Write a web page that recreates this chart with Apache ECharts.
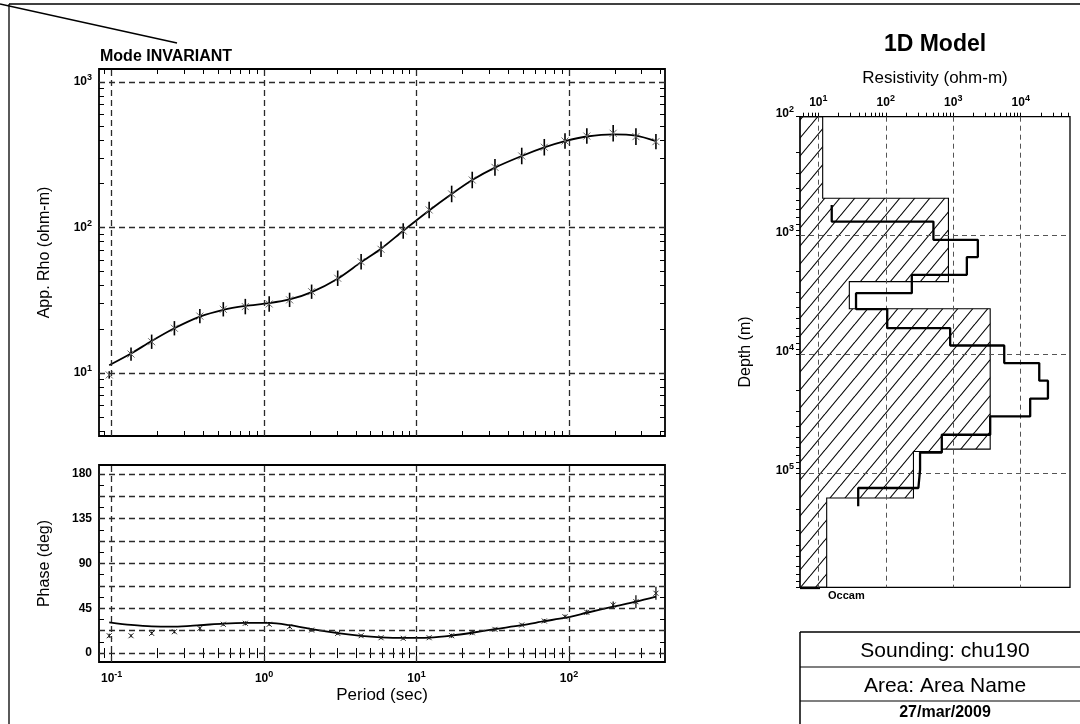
<!DOCTYPE html>
<html><head><meta charset="utf-8">
<script src="https://cdn.jsdelivr.net/npm/echarts@6/dist/echarts.min.js"></script>
<style>html,body{margin:0;padding:0;background:#fff}#c{width:1080px;height:724px}</style>
</head><body><div id="c"></div>
<script>
// ---------- DATA ----------
const periods   = [0.0964, 0.134, 0.183, 0.258, 0.379, 0.540, 0.753, 1.08, 1.47, 2.05, 3.04, 4.33, 5.85, 8.18, 12.1, 17.0, 23.2, 32.7, 49.0, 68.9, 94.2, 131, 195, 275, 372];
const rhoObs    = [9.7, 13.5, 16.4, 20.3, 24.6, 27.4, 28.6, 29.8, 31.8, 36.2, 44.8, 58.2, 70.8, 94.6, 132, 170, 212, 259, 310, 356, 393, 425, 444, 421, 389];
const rhoErr    = [0.06, 0.11, 0.12, 0.12, 0.12, 0.12, 0.13, 0.13, 0.12, 0.12, 0.13, 0.13, 0.13, 0.13, 0.14, 0.14, 0.14, 0.14, 0.14, 0.14, 0.13, 0.13, 0.14, 0.14, 0.13];
const rhoModel  = [11.3, 13.6, 16.6, 20.3, 24.4, 27.2, 28.9, 30.2, 32.0, 36.0, 44.5, 57.8, 71.5, 95, 131, 170, 212, 258, 310, 355, 392, 422, 437, 428, 392];
const phaseObs  = [17.4, 17.4, 19.8, 21.4, 24.8, 28.9, 29.9, 28.9, 26.5, 23.1, 19.8, 17.4, 15.4, 14.8, 15.4, 17.4, 20.4, 23.8, 28.2, 32.2, 36.5, 40.9, 48.3, 51.6, 60.1];
const phaseErr  = [2, 1.5, 1.5, 1.5, 2, 1.5, 2, 1.5, 1.5, 1.5, 1.5, 1.5, 1.5, 1.5, 1.5, 2, 2, 2, 1.5, 2, 2, 2.5, 3.5, 6.5, 6.5];
const phaseModel= [30.9, 28.3, 26.8, 26.6, 28.0, 29.6, 30.3, 30.3, 28.0, 24.0, 20.0, 17.2, 15.8, 15.2, 15.6, 17.6, 20.4, 24.0, 28.0, 32.0, 35.5, 40.5, 46.6, 51.6, 56.7];

// 1D model: Occam layers (depth boundaries in m, resistivity per layer in ohm-m)
const occamDepth = [552, 762, 1086, 1517, 2138, 3048, 4150, 6000, 8400, 11800, 16600, 23500, 33200, 47300, 66700, 93100, 132700, 189000];
const occamRes   = [15.8, 508, 2313, 1589, 243, 36.2, 105, 899, 5690, 18800, 25300, 13800, 3525, 676, 322, 304, 39];
// hatched bound (depth boundaries and max resistivity per layer)
const envDepth = [100, 485, 2440, 4120, 62500, 65500, 161000, 908000];
const envRes   = [11.6, 848, 28.8, 3525, 676, 257, 13.3];

// axes / tick labels
const periodLabels = [0.1, 1, 10, 100];
const rhoLabels    = [10, 100, 1000];
const phaseLabels  = [0, 45, 90, 135, 180];
const phaseGrid    = [0, 22.5, 45, 67.5, 90, 112.5, 135, 157.5, 180];
const phaseTicks   = [0, 11.25, 22.5, 33.75, 45, 56.25, 67.5, 78.75, 90, 101.25, 112.5, 123.75, 135, 146.25, 157.5, 168.75, 180];
const resLabels    = [10, 100, 1000, 10000];
const depthLabels  = [100, 1000, 10000, 100000];

const P_MIN = 0.0826, P_MAX = 426.6;
const RHO_MIN = 3.69, RHO_MAX = 1228;
const PH_MIN = -9, PH_MAX = 189;
const RES_MIN = 5.35, RES_MAX = 53700;
const DEP_MIN = 100, DEP_MAX = 908000;

// ---------- helpers ----------
const FONT = "'Liberation Sans', Arial, Helvetica, sans-serif";
function decadeTicks(lo, hi) {
  const out = [];
  for (let k = Math.floor(Math.log10(lo)); k <= Math.ceil(Math.log10(hi)); k++) {
    for (let m = 1; m <= 9; m++) {
      const v = parseFloat((m * Math.pow(10, k)).toPrecision(6));
      if (v >= lo && v <= hi) out.push(v);
    }
  }
  return out;
}
const pow10 = v => '{b|10}{s|' + Math.round(Math.log10(v)) + '}';
const rich = {
  b: {fontSize: 12, fontWeight: 'bold', fontFamily: FONT, color: '#000'},
  s: {fontSize: 9, fontWeight: 'bold', fontFamily: FONT, color: '#000', padding: [0, 0, 8, 0]}
};
const richUp = {
  b: {fontSize: 12, fontWeight: 'bold', fontFamily: FONT, color: '#000', padding: [0, 0, 6, 0]},
  s: {fontSize: 9, fontWeight: 'bold', fontFamily: FONT, color: '#000', padding: [0, 0, 14, 0]}
};
const nameStyle = {fontSize: 16, fontFamily: FONT, color: '#000'};

function hatchPattern() {
  const w = 15, h = 18;
  const c = document.createElement('canvas');
  c.width = w; c.height = h;
  const g = c.getContext('2d');
  g.strokeStyle = '#000'; g.lineWidth = 1.1;
  for (let k = -1; k <= 1; k++) {
    g.beginPath(); g.moveTo(k * w, h); g.lineTo(k * w + w, 0); g.stroke();
  }
  return c;
}

function gridMark(xs, ys, style) {
  return {
    silent: true, symbol: ['none', 'none'], label: {show: false}, animation: false,
    emphasis: {disabled: true}, lineStyle: style,
    data: xs.map(v => ({xAxis: v})).concat(ys.map(v => ({yAxis: v})))
  };
}
const dashL = {color: '#2a2a2a', width: 1.3, type: [6, 4]};
const dashR = {color: '#555', width: 1, type: [5, 4]};

function tick(vals, inside, len) {
  return {show: true, inside: inside, length: len, customValues: vals, lineStyle: {color: '#000', width: 1}};
}
const noLine = {show: false};
const noSplit = {show: false};

const pTicks = decadeTicks(P_MIN, P_MAX);
const rTicks = decadeTicks(RHO_MIN, RHO_MAX);
const resTicks = decadeTicks(RES_MIN, RES_MAX);
const depTicks = decadeTicks(DEP_MIN, DEP_MAX);

function errRenderer(color, xs, barW, isLog) {
  return function (params, api) {
    const p = api.value(0), v = api.value(1), e = api.value(2);
    const c = api.coord([p, v]);
    const hi = api.coord([p, isLog ? v * (1 + e) : v + e]);
    const lo = api.coord([p, isLog ? v / (1 + e) : v - e]);
    return {type: 'group', children: [
      {type: 'line', shape: {x1: c[0], y1: hi[1], x2: c[0], y2: lo[1]}, style: {stroke: '#000', lineWidth: barW}},
      {type: 'line', shape: {x1: c[0] - xs, y1: c[1] - xs, x2: c[0] + xs, y2: c[1] + xs}, style: {stroke: color, lineWidth: 1}},
      {type: 'line', shape: {x1: c[0] - xs, y1: c[1] + xs, x2: c[0] + xs, y2: c[1] - xs}, style: {stroke: color, lineWidth: 1}}
    ]};
  };
}

const hatch = hatchPattern();
const occamPts = [];
occamRes.forEach((r, i) => { occamPts.push([r, occamDepth[i]], [r, occamDepth[i + 1]]); });

const chart = echarts.init(document.getElementById('c'), null, {renderer: 'canvas'});
const gridBox = {show: true, borderColor: '#000', borderWidth: 1.8, backgroundColor: 'transparent'};

chart.setOption({
  animation: false,
  backgroundColor: '#fff',
  grid: [
    Object.assign({left: 99, top: 69, width: 566, height: 367}, gridBox),
    Object.assign({left: 99, top: 465, width: 566, height: 197}, gridBox),
    Object.assign({left: 800, top: 116.7, width: 270, height: 470.6}, gridBox, {borderWidth: 1.3})
  ],
  xAxis: [
    {gridIndex: 0, type: 'log', position: 'bottom', min: P_MIN, max: P_MAX, axisLine: noLine, splitLine: noSplit,
     axisLabel: {show: false}, axisTick: tick(pTicks, true, 5)},
    {gridIndex: 0, type: 'log', position: 'top', min: P_MIN, max: P_MAX, axisLine: noLine, splitLine: noSplit,
     axisLabel: {show: false}, axisTick: tick(pTicks, true, 5)},
    {gridIndex: 1, type: 'log', position: 'bottom', min: P_MIN, max: P_MAX, axisLine: noLine, splitLine: noSplit,
     axisLabel: {customValues: periodLabels, formatter: pow10, rich: rich, margin: 8},
     axisTick: tick(pTicks, true, 5),
     name: 'Period (sec)', nameLocation: 'middle', nameGap: 25, nameTextStyle: Object.assign({}, nameStyle, {fontSize: 17, verticalAlign: 'top'})},
    {gridIndex: 1, type: 'log', position: 'top', min: P_MIN, max: P_MAX, axisLine: noLine, splitLine: noSplit,
     axisLabel: {show: false}, axisTick: tick(pTicks, true, 5)},
    {gridIndex: 2, type: 'log', position: 'top', min: RES_MIN, max: RES_MAX, axisLine: noLine, splitLine: noSplit,
     axisLabel: {customValues: resLabels, formatter: pow10, rich: rich, margin: 6},
     axisTick: tick(resTicks, false, 4),
     name: 'Resistivity (ohm-m)', nameLocation: 'middle', nameGap: 30, nameTextStyle: Object.assign({}, nameStyle, {fontSize: 17})}
  ],
  yAxis: [
    {gridIndex: 0, type: 'log', position: 'left', min: RHO_MIN, max: RHO_MAX, axisLine: noLine, splitLine: noSplit,
     axisLabel: {customValues: rhoLabels, formatter: pow10, rich: rich, margin: 7},
     axisTick: tick(rTicks, true, 5),
     name: 'App. Rho (ohm-m)', nameLocation: 'middle', nameGap: 46, nameTextStyle: nameStyle},
    {gridIndex: 0, type: 'log', position: 'right', min: RHO_MIN, max: RHO_MAX, axisLine: noLine, splitLine: noSplit,
     axisLabel: {show: false}, axisTick: tick(rTicks, true, 5)},
    {gridIndex: 1, type: 'value', position: 'left', min: PH_MIN, max: PH_MAX, axisLine: noLine, splitLine: noSplit,
     axisLabel: {customValues: phaseLabels, fontSize: 12, fontWeight: 'bold', fontFamily: FONT, color: '#000', margin: 7},
     axisTick: tick(phaseTicks, true, 5),
     name: 'Phase (deg)', nameLocation: 'middle', nameGap: 46, nameTextStyle: nameStyle},
    {gridIndex: 1, type: 'value', position: 'right', min: PH_MIN, max: PH_MAX, axisLine: noLine, splitLine: noSplit,
     axisLabel: {show: false}, axisTick: tick(phaseTicks, true, 5)},
    {gridIndex: 2, type: 'log', inverse: true, position: 'left', min: DEP_MIN, max: DEP_MAX, axisLine: noLine, splitLine: noSplit,
     axisLabel: {customValues: depthLabels, formatter: pow10, rich: richUp, margin: 6},
     axisTick: tick(depTicks, false, 4),
     name: 'Depth (m)', nameLocation: 'middle', nameGap: 46, nameTextStyle: nameStyle}
  ],
  series: [
    {type: 'line', name: 'rho model', xAxisIndex: 0, yAxisIndex: 0, smooth: 0.3, showSymbol: false, silent: true,
     data: periods.map((p, i) => [p, rhoModel[i]]), lineStyle: {color: '#000', width: 1.8}, z: 3,
     markLine: gridMark(periodLabels, rhoLabels, dashL)},
    {type: 'custom', name: 'rho obs', xAxisIndex: 0, yAxisIndex: 0, renderItem: errRenderer('#666', 3.5, 1.6, true),
     data: periods.map((p, i) => [p, rhoObs[i], rhoErr[i]]), encode: {x: 0, y: 1}, z: 4, silent: true},
    {type: 'line', name: 'phase model', xAxisIndex: 2, yAxisIndex: 2, smooth: 0.3, showSymbol: false, silent: true,
     data: periods.map((p, i) => [p, phaseModel[i]]), lineStyle: {color: '#000', width: 1.8}, z: 3,
     markLine: gridMark(periodLabels, phaseGrid, dashL)},
    {type: 'custom', name: 'phase obs', xAxisIndex: 2, yAxisIndex: 2, renderItem: errRenderer('#222', 2.5, 1.2, false),
     data: periods.map((p, i) => [p, phaseObs[i], phaseErr[i]]), encode: {x: 0, y: 1}, z: 4, silent: true},
    {type: 'custom', name: 'bounds', xAxisIndex: 4, yAxisIndex: 4, silent: true, z: 2,
     data: [[envRes[0], envDepth[0]]], encode: {x: 0, y: 1},
     renderItem: function (params, api) {
       const left = params.coordSys.x;
       const pts = [[left, api.coord([envRes[0], envDepth[0]])[1]]];
       for (let i = 0; i < envRes.length; i++) {
         pts.push(api.coord([envRes[i], envDepth[i]]));
         pts.push(api.coord([envRes[i], envDepth[i + 1]]));
       }
       pts.push([left, api.coord([envRes[0], envDepth[envDepth.length - 1]])[1]]);
       return {type: 'polygon', shape: {points: pts},
               style: {fill: {image: hatch, repeat: 'repeat'}, stroke: '#000', lineWidth: 1.1}};
     },
     markLine: gridMark(resLabels, depthLabels.slice(1), dashR)},
    {type: 'line', name: 'Occam', xAxisIndex: 4, yAxisIndex: 4, showSymbol: false, silent: true, z: 5,
     data: occamPts, lineStyle: {color: '#000', width: 2.3}}
  ],
  graphic: [
    {type: 'line', shape: {x1: 9, y1: 4, x2: 1080, y2: 4}, style: {stroke: '#000', lineWidth: 1.3}},
    {type: 'line', shape: {x1: 9, y1: 4, x2: 9, y2: 724}, style: {stroke: '#000', lineWidth: 1.3}},
    {type: 'line', shape: {x1: 0, y1: 4, x2: 177, y2: 43}, style: {stroke: '#000', lineWidth: 1.5}},
    {type: 'text', x: 100, y: 57, style: {text: 'Mode INVARIANT', font: 'bold 16px ' + FONT, fill: '#000',
      align: 'left', verticalAlign: 'middle', textAlign: 'left', textVerticalAlign: 'middle'}},
    {type: 'text', x: 935, y: 45, style: {text: '1D Model', font: 'bold 23px ' + FONT, fill: '#000',
      align: 'center', verticalAlign: 'middle', textAlign: 'center', textVerticalAlign: 'middle'}},
    {type: 'line', shape: {x1: 800, y1: 588, x2: 820, y2: 588}, style: {stroke: '#000', lineWidth: 2.3}},
    {type: 'text', x: 828, y: 596, style: {text: 'Occam', font: 'bold 11px ' + FONT, fill: '#000',
      align: 'left', verticalAlign: 'middle', textAlign: 'left', textVerticalAlign: 'middle'}},
    // info table
    {type: 'line', shape: {x1: 800, y1: 632, x2: 1080, y2: 632}, style: {stroke: '#000', lineWidth: 1.5}},
    {type: 'line', shape: {x1: 800, y1: 667, x2: 1080, y2: 667}, style: {stroke: '#000', lineWidth: 1.2}},
    {type: 'line', shape: {x1: 800, y1: 701, x2: 1080, y2: 701}, style: {stroke: '#000', lineWidth: 1.2}},
    {type: 'line', shape: {x1: 800, y1: 632, x2: 800, y2: 724}, style: {stroke: '#000', lineWidth: 1.5}},
    {type: 'text', x: 945, y: 651, style: {text: 'Sounding: chu190', font: '21px ' + FONT, fill: '#000',
      align: 'center', verticalAlign: 'middle', textAlign: 'center', textVerticalAlign: 'middle'}},
    {type: 'text', x: 945, y: 686, style: {text: 'Area: Area Name', font: '21px ' + FONT, fill: '#000',
      align: 'center', verticalAlign: 'middle', textAlign: 'center', textVerticalAlign: 'middle'}},
    {type: 'text', x: 945, y: 713, style: {text: '27/mar/2009', font: 'bold 16px ' + FONT, fill: '#000',
      align: 'center', verticalAlign: 'middle', textAlign: 'center', textVerticalAlign: 'middle'}}
  ]
});
</script></body></html>
